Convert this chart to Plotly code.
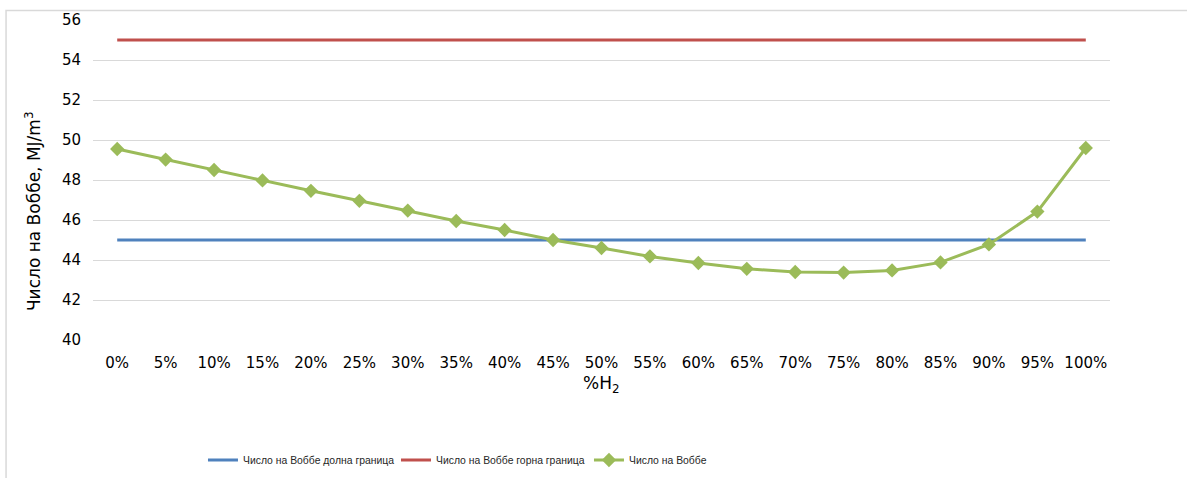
import plotly.graph_objects as go

# Hydrogen share categories
h2_share = ["0%", "5%", "10%", "15%", "20%", "25%", "30%", "35%", "40%", "45%", "50%",
            "55%", "60%", "65%", "70%", "75%", "80%", "85%", "90%", "95%", "100%"]

# Wobbe index of the blend, MJ/m3
wobbe = [49.55, 49.02, 48.50, 47.98, 47.46, 46.96, 46.47, 45.95, 45.50, 45.00, 44.60,
         44.18, 43.85, 43.56, 43.40, 43.37, 43.48, 43.88, 44.78, 46.42, 49.60]

# Allowed range limits
lower_limit = [45.0] * len(h2_share)
upper_limit = [55.0] * len(h2_share)

y_ticks = [40, 42, 44, 46, 48, 50, 52, 54, 56]

BLUE = "#4F81BD"
RED = "#C0504D"
GREEN = "#9BBB59"
GRID = "#D9D9D9"
TEXT_FONT = "DejaVu Sans, Verdana, sans-serif"
LEGEND_FONT = "Liberation Sans, Arial, sans-serif"

fig = go.Figure()
fig.add_trace(go.Scatter(
    x=h2_share, y=lower_limit, mode="lines",
    name="Число на Воббе долна граница",
    line=dict(color=BLUE, width=3),
))
fig.add_trace(go.Scatter(
    x=h2_share, y=upper_limit, mode="lines",
    name="Число на Воббе горна граница",
    line=dict(color=RED, width=3),
))
fig.add_trace(go.Scatter(
    x=h2_share, y=wobbe, mode="lines+markers",
    name="Число на Воббе",
    line=dict(color=GREEN, width=3),
    marker=dict(symbol="diamond", size=11, color=GREEN),
))

fig.update_layout(
    width=1187, height=478,
    margin=dict(l=93, r=77, t=20, b=138),
    paper_bgcolor="white", plot_bgcolor="white",
    font=dict(family=TEXT_FONT, size=15, color="#000000"),
    showlegend=True,
    legend=dict(
        orientation="h", xref="container", yref="container",
        x=0.171, xanchor="left", y=0.0377, yanchor="middle",
        font=dict(family=LEGEND_FONT, size=10.4, color="#262626"),
        itemwidth=30, tracegroupgap=0,
        entrywidth=148, entrywidthmode="pixels",
    ),
    xaxis=dict(
        type="category", range=[-0.5, len(h2_share) - 0.5], automargin=False,
        showgrid=False, zeroline=False, showline=False,
        ticks="", tickfont=dict(size=15), ticklabelstandoff=12,
    ),
    yaxis=dict(
        range=[40, 56], tickvals=y_ticks, automargin=False,
        showgrid=True, gridcolor=GRID, gridwidth=1,
        zeroline=False, showline=False, ticks="",
        tickfont=dict(size=15), ticklabelstandoff=11,
    ),
    annotations=[
        dict(text="Число на Воббе, MJ/m<sup>3</sup>", xref="paper", yref="paper",
             x=-0.059, y=0.403, textangle=-90, showarrow=False,
             xanchor="center", yanchor="middle", font=dict(size=17)),
        dict(text="%H<sub>2</sub>", xref="paper", yref="paper",
             x=0.5, y=-0.14, showarrow=False,
             xanchor="center", yanchor="middle", font=dict(size=17)),
    ],
    shapes=[dict(
        type="rect", xref="paper", yref="paper",
        x0=-0.0855, x1=1.2, y0=-0.6, y1=1.0297,
        line=dict(color=GRID, width=1.5), fillcolor="rgba(0,0,0,0)", layer="below",
    )],
)

fig.write_html("out.html")
